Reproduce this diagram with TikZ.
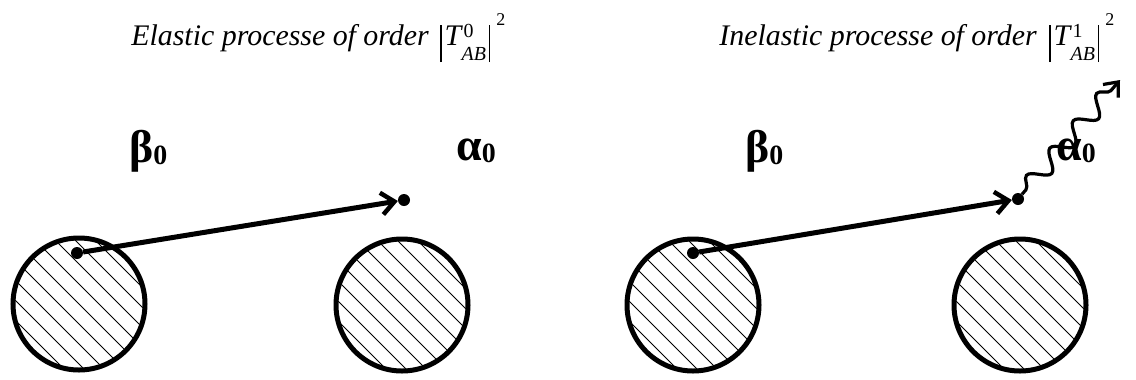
\documentclass[tikz,border=0pt]{standalone}
\usepackage{fontspec}
\setmainfont{Liberation Serif}
\usetikzlibrary{arrows.meta,decorations.pathmorphing}
\tikzset{
  x=1bp, y=-1bp,
  ball/.style={circle, draw, line width=5bp, minimum size=132bp, inner sep=0pt,
    path picture={\foreach \k in {-8,...,8}
      \draw[line width=0.9bp] ([xshift=\k*20bp-100bp, yshift=100bp]path picture bounding box.center) -- ++(200bp,-200bp);}},
  dot/.style={circle, fill, minimum size=12bp, inner sep=0pt},
  shot/.style={line width=5bp, -{Straight Barb[length=13bp,width=22bp,line width=4.5bp]}},
  photon/.style={line width=3.2bp, -{Straight Barb[length=12bp,width=20bp,line width=3.2bp]},
    decorate, decoration={snake, amplitude=9bp, segment length=36bp, pre length=6bp, post length=10bp}},
  title/.style={font=\fontsize{30}{33}\selectfont\itshape, inner sep=0pt},
  greek/.style={font=\bfseries, inner sep=0pt, anchor=base west}
}
\newcommand\grk[1]{{\fontsize{46}{46}\selectfont #1}{\fontsize{28}{28}\selectfont\raisebox{-2bp}{0}}}
\newcommand\barline{\vrule height 20bp depth 17bp width 1.3bp}
\newcommand\ampl[1]{\barline\kern3bp
  {\itshape T}\kern0.5bp
  \rlap{\kern2bp\raisebox{8bp}{\fontsize{20}{20}\selectfont #1}}%
  \raisebox{-15bp}{\fontsize{20}{20}\selectfont\itshape AB}\kern3bp
  \barline\kern6bp
  \raisebox{20bp}{\fontsize{18}{18}\selectfont 2}}
\begin{document}
\begin{tikzpicture}
\useasboundingbox (0,0) rectangle (1136,379);
% titles
\node[title, anchor=base east] (t1) at (429,45) {Elastic processe of order};
\node[title, anchor=base west, font=\fontsize{30}{33}\selectfont] (m1) at (440,45) {\ampl{0}};
\node[title, anchor=base east] (t2) at (1037,45) {Inelastic processe of order};
\node[title, anchor=base west, font=\fontsize{30}{33}\selectfont] (m2) at (1049,45) {\ampl{1}};
% left process
\node[ball] (a1) at (79,304) {};
\node[ball] (b1) at (402,305) {};
\node[dot] (d1) at (77,253) {};
\node[dot] (e1) at (404,200) {};
\draw[shot] (d1) -- (e1);
\node[greek] (beta1) at (129,162) {\grk{β}};
\node[greek] (alpha1) at (456,160) {\grk{α}};
% right process
\node[ball] (a2) at (693,305) {};
\node[ball] (b2) at (1020,305) {};
\node[dot] (d2) at (693,253) {};
\node[dot] (e2) at (1018,199) {};
\draw[shot] (d2) -- (e2);
\coordinate (w2) at (1120,80);
\draw[photon] (e2) -- (w2);
\node[greek] (beta2) at (745,162) {\grk{β}};
\node[greek] (alpha2) at (1056,160) {\grk{α}};
\end{tikzpicture}
\end{document}
